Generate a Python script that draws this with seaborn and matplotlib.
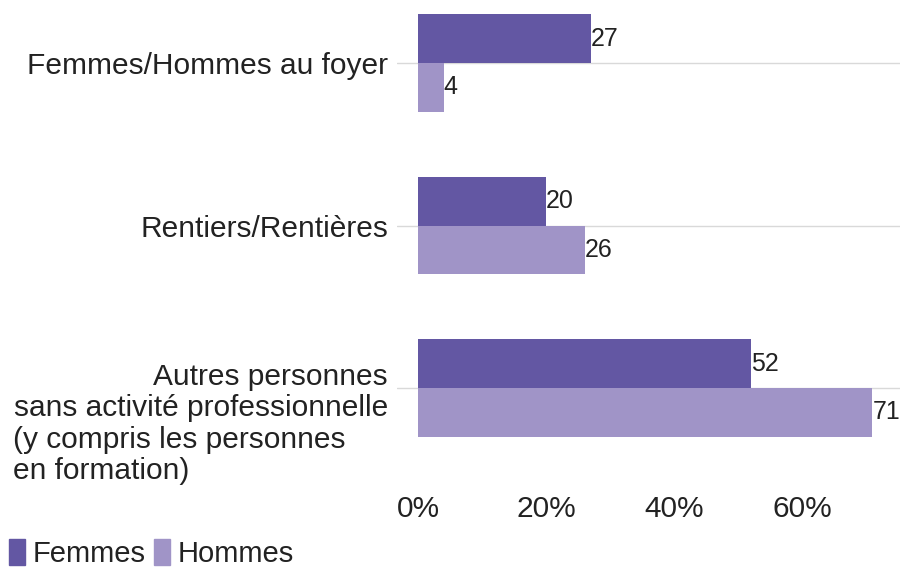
import pandas as pd
import seaborn as sns
import matplotlib.pyplot as plt
import matplotlib.transforms as mtransforms

# --- Données ---
categories = [
    "Femmes/Hommes au foyer",
    "Rentiers/Rentières",
    "Autres personnes\nsans activité professionnelle",
]
femmes = [27, 20, 52]
hommes = [4, 26, 71]
series = ["Femmes", "Hommes"]
xticks = [0, 20, 40, 60]
xtick_labels = ["0%", "20%", "40%", "60%"]
label_suite = "(y compris les personnes\nen formation)"

# --- Style ---
sns.set_theme(style="white")
plt.rcParams['font.family'] = ['Liberation Sans', 'DejaVu Sans']
couleurs = {"Femmes": "#6357a3", "Hommes": "#a094c7"}
texte = "#222222"

df = pd.DataFrame({
    "categorie": categories * 2,
    "valeur": femmes + hommes,
    "sexe": [series[0]] * len(categories) + [series[1]] * len(categories),
})

fig = plt.figure(figsize=(9, 5.69), dpi=100)
ax = fig.add_axes([397 / 900, 1 - 480 / 569, 1 - 397 / 900, 480 / 569])

sns.barplot(
    data=df, y="categorie", x="valeur", hue="sexe", orient="h",
    palette=couleurs, width=0.6, ax=ax, saturation=1, legend=False,
    edgecolor="none",
)

# Étiquettes des barres
for cont in ax.containers:
    ax.bar_label(cont, fmt="%d", padding=0, fontsize=18, color=texte)

# Axes
ax.set_xlim(-3.3, 75.3)
ax.set_ylim(2.566, -0.388)
ax.set_xticks(xticks)
ax.set_xticklabels(xtick_labels)
ax.set_xlabel("")
ax.set_ylabel("")
ax.tick_params(axis="x", length=0, pad=11, labelsize=21.5, labelcolor=texte)
ax.tick_params(axis="y", length=3, width=0.8, color="#999999", pad=3.5,
               labelsize=21.5, labelcolor=texte)
for lab in ax.get_yticklabels():
    lab.set_linespacing(1.12)
sns.despine(ax=ax, left=True, bottom=True)
ax.grid(axis="y", color="#d9d9d9", linewidth=1)
ax.grid(axis="x", visible=False)
ax.set_axisbelow(True)

# Suite du libellé de la 3e catégorie (aligné à gauche)
trans = mtransforms.blended_transform_factory(fig.transFigure, ax.transData)
ax.text(13 / 900, 2.415, label_suite, transform=trans, ha="left", va="center",
        fontsize=21.5, color=texte, linespacing=1.15, clip_on=False)

# Légende
handles = [plt.Rectangle((0, 0), 1, 1, color=couleurs[s]) for s in series]
fig.legend(handles, series, loc="upper left", bbox_to_anchor=(9 / 900, 1 - 539 / 569),
           ncol=2, frameon=False, fontsize=21, handlelength=0.55, handleheight=1.0,
           handletextpad=0.25, columnspacing=0.3, borderpad=0, borderaxespad=0,
           labelcolor=texte)

plt.savefig("out.png", dpi=100)
plt.close()
